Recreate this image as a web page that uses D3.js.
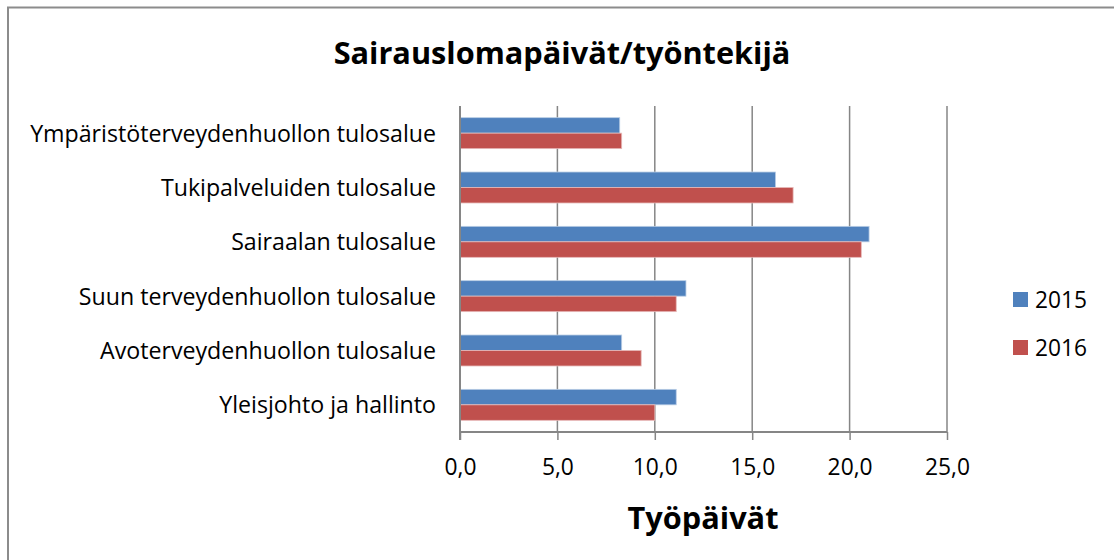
<!DOCTYPE html>
<html>
<head>
<meta charset="utf-8">
<script src="https://cdn.jsdelivr.net/npm/d3@7"></script>
<style>
  body { margin: 0; background: #fff; }
  svg text { font-family: "Open Sans", Lato, sans-serif; fill: #000; }
</style>
</head>
<body>
<div id="chart"></div>
<script>
// categories top to bottom as shown
const categories = [
    'Ympäristöterveydenhuollon tulosalue',
    'Tukipalveluiden tulosalue',
    'Sairaalan tulosalue',
    'Suun terveydenhuollon tulosalue',
    'Avoterveydenhuollon tulosalue',
    'Yleisjohto ja hallinto'
];
const series = ['2015', '2016'];
const values2015 = [8.2, 16.2, 21.0, 11.6, 8.3, 11.1];
const values2016 = [8.3, 17.1, 20.6, 11.1, 9.3, 10.0];
const xTicks = [0, 5, 10, 15, 20, 25];
const colors = ['#4F81BD', '#C0504D'];

const width = 1114, height = 560;
const margin = { top: 106, right: 167, bottom: 128, left: 460 };

// shrink/grow font so the widest text matches a target width (Calibri substitute)
function fitFont(sel, target, base) {
    let maxW = 0;
    sel.style('font-size', base + 'px').each(function () {
        maxW = Math.max(maxW, this.getComputedTextLength());
    });
    let size = base * target / maxW;
    sel.style('font-size', size + 'px');
}

let svg = d3.select('#chart')
    .append('svg')
    .attr('width', width)
    .attr('height', height);

// outer chart border
svg.append('rect')
    .attr('x', 8).attr('y', 7.5)
    .attr('width', 1120).attr('height', 570)
    .attr('fill', 'none')
    .attr('stroke', '#8c8c8c')
    .attr('stroke-width', 2);

let x = d3.scaleLinear().domain([0, 25]).range([margin.left, width - margin.right]);
let y = d3.scaleBand()
    .domain(categories)
    .range([margin.top, height - margin.bottom])
    .paddingInner(0.43)
    .paddingOuter(0.215);
let ySub = d3.scaleBand().domain(series).range([0, y.bandwidth()]);

// gridlines
svg.append('g')
    .selectAll('line')
    .data(xTicks)
    .enter()
    .append('line')
    .attr('x1', (d) => x(d)).attr('x2', (d) => x(d))
    .attr('y1', margin.top).attr('y2', height - margin.bottom)
    .attr('stroke', '#868686')
    .attr('stroke-width', 1.5);

// bars
let rows = categories.map((c, i) => ({ cat: c, vals: [values2015[i], values2016[i]] }));
let groups = svg.append('g')
    .selectAll('g')
    .data(rows)
    .enter()
    .append('g')
    .attr('transform', (d) => 'translate(0,' + y(d.cat) + ')');

groups.selectAll('rect')
    .data((d) => d.vals.map((v, j) => ({ key: series[j], value: v, j: j })))
    .enter()
    .append('rect')
    .attr('x', x(0))
    .attr('y', (d) => ySub(d.key))
    .attr('width', (d) => x(d.value) - x(0))
    .attr('height', ySub.bandwidth())
    .attr('fill', (d) => colors[d.j])
    .attr('stroke', (d) => d.j === 0 ? '#b9cde5' : '#e6b9b8')
    .attr('stroke-width', 0.8);

// x axis
let xAxis = svg.append('g')
    .attr('transform', 'translate(0,' + (height - margin.bottom) + ')')
    .call(d3.axisBottom(x)
        .tickValues(xTicks)
        .tickSize(8)
        .tickPadding(19)
        .tickFormat((d) => d3.format('.1f')(d).replace('.', ',')));
xAxis.select('.domain').attr('stroke', '#868686').attr('stroke-width', 2)
    .attr('d', 'M' + x(0) + ',0H' + x(25));
xAxis.selectAll('.tick line').attr('stroke', '#868686').attr('stroke-width', 1.5);
let tickText = xAxis.selectAll('.tick text')
    .style('font-family', '"Open Sans", sans-serif')
    .attr('fill', '#000');
fitFont(xAxis.selectAll('.tick:nth-child(4) text'), 45, 20);
tickText.style('font-size', xAxis.select('.tick:nth-child(4) text').style('font-size'));

// y axis line
svg.append('line')
    .attr('x1', x(0)).attr('x2', x(0))
    .attr('y1', margin.top).attr('y2', height - margin.bottom + 8)
    .attr('stroke', '#868686')
    .attr('stroke-width', 2);

// category labels
let catLabels = svg.append('g')
    .selectAll('text')
    .data(categories)
    .enter()
    .append('text')
    .attr('x', 436)
    .attr('y', (d) => y(d) + y.bandwidth() / 2)
    .attr('dy', '0.36em')
    .attr('text-anchor', 'end')
    .text((d) => d);
fitFont(catLabels, 406, 20);

// title
let title = svg.append('text')
    .attr('x', 562)
    .attr('y', 64)
    .attr('text-anchor', 'middle')
    .style('font-weight', 'bold')
    .text('Sairauslomapäivät/työntekijä');
fitFont(title, 457, 30);

// axis title
let axisTitle = svg.append('text')
    .attr('x', 703)
    .attr('y', 529)
    .attr('text-anchor', 'middle')
    .style('font-weight', 'bold')
    .text('Työpäivät');
fitFont(axisTitle, 151, 30);

// legend
let legend = svg.append('g')
    .selectAll('g')
    .data(series)
    .enter()
    .append('g')
    .attr('transform', (d, i) => 'translate(1013,' + (292 + i * 48) + ')');
legend.append('rect')
    .attr('width', 15).attr('height', 15)
    .attr('fill', (d, i) => colors[i]);
let legendText = legend.append('text')
    .attr('x', 22)
    .attr('y', 8)
    .attr('dy', '0.36em')
    .text((d) => d);
fitFont(legendText, 52, 20);
</script>
</body>
</html>
